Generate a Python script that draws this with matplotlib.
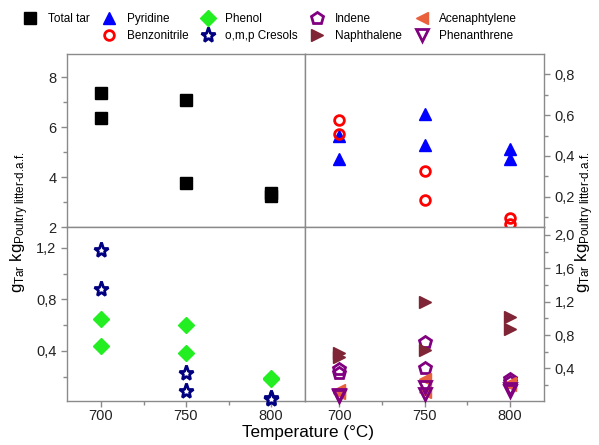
import matplotlib
matplotlib.use("Agg")
import matplotlib.pyplot as plt
from matplotlib.ticker import MultipleLocator, FuncFormatter, FixedLocator
from matplotlib.lines import Line2D

plt.rcParams['font.family'] = ['Liberation Sans', 'DejaVu Sans']
plt.rcParams['mathtext.fontset'] = 'custom'
plt.rcParams['mathtext.rm'] = 'Liberation Sans'
plt.rcParams['mathtext.it'] = 'Liberation Sans:italic'

# ---------------- data ----------------
temps2 = [700, 700, 750, 750, 800, 800]
total_tar = [7.36, 6.37, 7.08, 3.76, 3.37, 3.27]
pyridine = [0.387, 0.496, 0.607, 0.452, 0.436, 0.384]
benzonitrile = [0.574, 0.509, 0.325, 0.184, 0.094, 0.068]
phenol = [0.646, 0.437, 0.602, 0.385, 0.19, 0.18]
cresols = [1.182, 0.879, 0.229, 0.087, 0.030, 0.025]
indene = [0.39, 0.35, 0.72, 0.41, 0.27, 0.24]
naphthalene = [0.59, 0.54, 1.20, 0.62, 1.02, 0.87]
acenaphtylene = [0.14, 0.10, 0.27, 0.12, 0.23, 0.20]
phenanthrene = [0.08, 0.07, 0.18, 0.09, 0.15, 0.13]
xticks = [700, 750, 800]

W, H = 599, 445
fig = plt.figure(figsize=(W / 100, H / 100), dpi=100)

L, R, T, B = 67, 544, 54, 401
MX, MY = 305, 227.3

def fax(x0, y0, x1, y1):
    return fig.add_axes([x0 / W, 1 - y1 / H, (x1 - x0) / W, (y1 - y0) / H])

ax_tl = fax(L, T, MX, MY)
ax_tr = fax(MX, T, R, MY)
ax_bl = fax(L, MY, MX, B)
ax_br = fax(MX, MY, R, B)

spine_c = '#8a8a8a'
comma = FuncFormatter(lambda v, p: f'{v:.1f}'.replace('.', ','))

for ax in (ax_tl, ax_tr, ax_bl, ax_br):
    ax.set_xlim(680, 820)
    for s in ax.spines.values():
        s.set_color(spine_c)
        s.set_linewidth(1.0)
    ax.xaxis.set_major_locator(FixedLocator(xticks))
    ax.xaxis.set_minor_locator(MultipleLocator(25))
    ax.tick_params(which='both', direction='out', colors=spine_c, labelcolor='#222222',
                   labelsize=10.5)
    ax.tick_params(which='major', length=4, width=1)
    ax.tick_params(which='minor', length=3, width=1)

for ax in (ax_tl, ax_tr):
    ax.tick_params(axis='x', labelbottom=False)
for ax in (ax_bl, ax_br):
    ax.tick_params(axis='x', pad=2)

for ax in (ax_tr, ax_br):
    ax.yaxis.tick_right()
    ax.yaxis.set_major_formatter(comma)

ax_tl.set_ylim(2, 8.93)
ax_tl.yaxis.set_major_locator(MultipleLocator(2))
ax_tl.yaxis.set_minor_locator(MultipleLocator(1))

ax_tr.set_ylim(0.05, 0.9)
ax_tr.yaxis.set_major_locator(FixedLocator([0.2, 0.4, 0.6, 0.8]))
ax_tr.yaxis.set_minor_locator(FixedLocator([0.1, 0.3, 0.5, 0.7]))

ax_bl.set_ylim(0.01, 1.36)
ax_bl.yaxis.set_major_locator(FixedLocator([0.4, 0.8, 1.2]))
ax_bl.yaxis.set_minor_locator(FixedLocator([0.2, 0.6, 1.0]))
ax_bl.yaxis.set_major_formatter(comma)

ax_br.set_ylim(0.01, 2.09)
ax_br.yaxis.set_major_locator(FixedLocator([0.4, 0.8, 1.2, 1.6, 2.0]))
ax_br.yaxis.set_minor_locator(FixedLocator([0.2, 0.6, 1.0, 1.4, 1.8]))

kw = dict(linestyle='none', clip_on=False, zorder=5)
h_tt, = ax_tl.plot(temps2, total_tar, marker='s', ms=8, color='black', label='Total tar', **kw)
h_py, = ax_tr.plot(temps2, pyridine, marker='^', ms=9, color='#0000ff', label='Pyridine', **kw)
h_bz, = ax_tr.plot(temps2, benzonitrile, marker='o', ms=7, mfc='none', mec='#ff0000', mew=2,
                   label='Benzonitrile', **kw)
h_ph, = ax_bl.plot(temps2, phenol, marker='D', ms=8, color='#22ee22', label='Phenol', **kw)
h_cr, = ax_bl.plot(temps2, cresols, marker='*', ms=11, mfc='white', mec='#000080', mew=2,
                   label='o,m,p Cresols', **kw)
h_in, = ax_br.plot(temps2, indene, marker='p', ms=9, mfc='none', mec='#800080', mew=2,
                   label='Indene', **kw)
h_na, = ax_br.plot(temps2, naphthalene, marker='>', ms=9, color='#7f2535', label='Naphthalene', **kw)
h_ac, = ax_br.plot(temps2, acenaphtylene, marker='<', ms=9, color='#e8603c', label='Acenaphtylene', **kw)
h_pn, = ax_br.plot(temps2, phenanthrene, marker='v', ms=9, mfc='none', mec='#800080', mew=2,
                   label='Phenanthrene', **kw)

blank = Line2D([], [], linestyle='none', marker=None)
handles = [h_tt, blank, h_py, h_bz, h_ph, h_cr, h_in, h_na, h_ac, h_pn]
labels = ['Total tar', '', 'Pyridine', 'Benzonitrile', 'Phenol', 'o,m,p Cresols',
          'Indene', 'Naphthalene', 'Acenaphtylene', 'Phenanthrene']
fig.legend(handles, labels, ncol=5, loc='upper left', bbox_to_anchor=(24 / W, 1 - 13 / H),
           frameon=False, fontsize=8.5, numpoints=1, handlelength=1.0, handletextpad=1.0,
           columnspacing=1.15, labelspacing=0.45, borderpad=0, borderaxespad=0)

ylab = r'g$_{\mathrm{Tar}}$ kg$_{\text{Poultry litter-d.a.f.}}$'
fig.text(20 / W, 1 - 222 / H, ylab, rotation=90, ha='center', va='center', fontsize=12)
fig.text(585 / W, 1 - 222 / H, ylab, rotation=90, ha='center', va='center', fontsize=12)
fig.text(308 / W, 1 - 432 / H, 'Temperature (°C)', ha='center', va='center', fontsize=12.3)

fig.savefig('out.png', dpi=100)
